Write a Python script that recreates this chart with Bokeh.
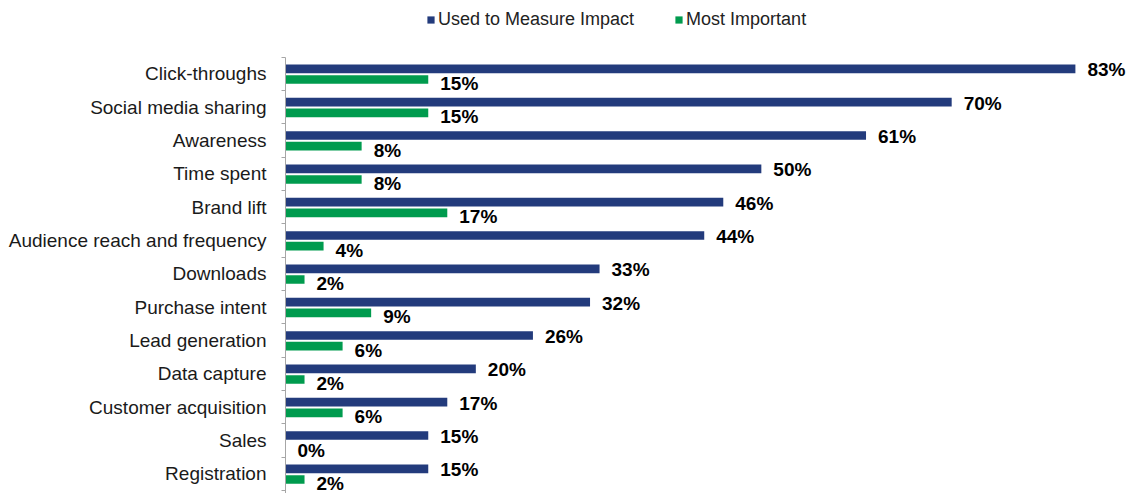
from bokeh.plotting import figure
from bokeh.models import (ColumnDataSource, Range1d, FixedTicker, LabelSet,
                          Legend, LegendItem)
from bokeh.core.properties import value
from bokeh.embed import file_html
from bokeh.resources import INLINE

categories = ["Click-throughs", "Social media sharing", "Awareness", "Time spent",
              "Brand lift", "Audience reach and frequency", "Downloads",
              "Purchase intent", "Lead generation", "Data capture",
              "Customer acquisition", "Sales", "Registration"]
used_to_measure = [83, 70, 61, 50, 46, 44, 33, 32, 26, 20, 17, 15, 15]
most_important = [15, 15, 8, 8, 17, 4, 2, 9, 6, 2, 6, 0, 2]
series_names = ["Used to Measure Impact", "Most Important"]

NAVY = "#233B7C"
GREEN = "#009B4E"
FONT = "Liberation Sans"

idx = list(range(len(categories)))
src = ColumnDataSource(dict(
    idx=idx,
    y_used=[i - 0.15 for i in idx],
    y_most=[i + 0.17 for i in idx],
    ylab_used=[i - 0.12 for i in idx],
    ylab_most=[i + 0.29 for i in idx],
    used=used_to_measure,
    most=most_important,
    used_lbl=[f"{v}%" for v in used_to_measure],
    most_lbl=[f"{v}%" for v in most_important],
))

n = len(categories)
p = figure(width=1132, height=493, output_backend="svg", toolbar_location=None,
           x_range=Range1d(0, 89.0), y_range=Range1d(12.59, -2.2),
           x_axis_location=None, min_border_left=285, min_border_right=0,
           min_border_top=0, min_border_bottom=0)
p.outline_line_color = None
p.grid.visible = False
p.background_fill_color = "white"
p.border_fill_color = "white"

r1 = p.hbar(y="y_used", right="used", left=0, height=0.26, source=src,
            fill_color=NAVY, line_color=None)
r2 = p.hbar(y="y_most", right="most", left=0, height=0.26, source=src,
            fill_color=GREEN, line_color=None)

ax = p.yaxis[0]
ax.bounds = (-0.5, 12.59)
ax.ticker = FixedTicker(ticks=idx, minor_ticks=[i - 0.5 for i in range(n + 1)])
ax.major_label_overrides = {i: c for i, c in zip(idx, categories)}
ax.major_tick_line_color = None
ax.major_tick_out = 0
ax.major_tick_in = 0
ax.minor_tick_line_color = "#A6A6A6"
ax.minor_tick_out = 4
ax.minor_tick_in = 0
ax.axis_line_color = "#A6A6A6"
ax.axis_line_width = 1
ax.major_label_standoff = 15
ax.major_label_text_font = FONT
ax.major_label_text_font_size = "19px"
ax.major_label_text_color = "#1a1a1a"

for ycol, xcol, tcol in [("ylab_used", "used", "used_lbl"), ("ylab_most", "most", "most_lbl")]:
    ls = LabelSet(x=xcol, y=ycol, text=tcol, source=src, x_offset=12,
                  text_baseline="middle", text_align="left",
                  text_font=value(FONT), text_font_size=value("19px"),
                  text_font_style="bold", text_color="black")
    p.add_layout(ls)

legend = Legend(items=[LegendItem(label=series_names[0], renderers=[r1]),
                       LegendItem(label=series_names[1], renderers=[r2])],
                orientation="horizontal", location=(141, 463),
                glyph_width=9, glyph_height=9, label_standoff=3, spacing=40,
                padding=0, margin=0, border_line_color=None,
                background_fill_alpha=0,
                label_text_font=FONT, label_text_font_size="18px",
                label_text_color="#222222", label_height=20)
p.add_layout(legend)

open("out.html", "w").write(file_html(p, INLINE))
